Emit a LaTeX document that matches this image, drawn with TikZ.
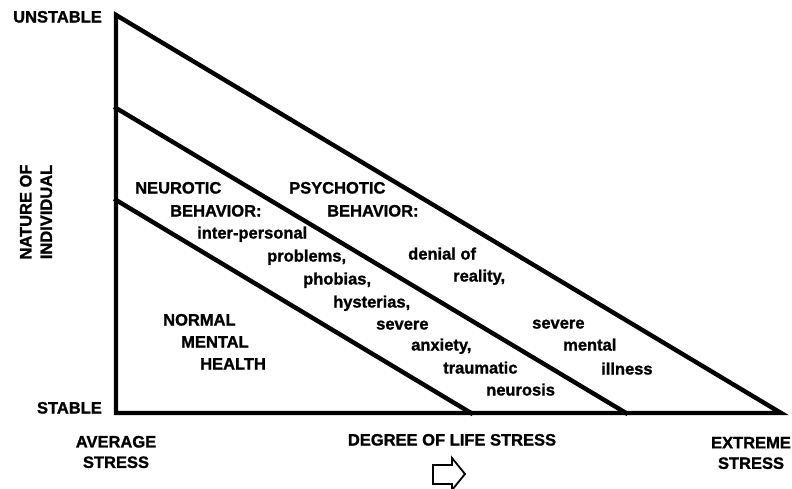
\documentclass[tikz,border=0pt]{standalone}
\usepackage{fontspec}
\setmainfont{Liberation Sans}[BoldFeatures={FakeBold=1.2}]
\tikzset{
  lbl/.style={font=\fontsize{16.5}{20.5}\selectfont\bfseries, inner sep=0pt, text height=1.2ex, text depth=0.25ex},
  edge/.style={line width=4.4pt, line join=miter, line cap=rect},
}
\begin{document}
\begin{tikzpicture}[x=1pt,y=-1pt]
\useasboundingbox (0,0) rectangle (792,489);
% frame coordinates
\coordinate (top) at (116,15);
\coordinate (bl) at (116,413);
\coordinate (br) at (781,413);
\coordinate (m1) at (116,108);
\coordinate (m2) at (626,413);
\coordinate (n1) at (116,200);
\coordinate (n2) at (471,413);
\draw[edge] (top) -- (bl) -- (br) -- cycle;
\draw[edge] (m1) -- (m2);
\draw[edge] (n1) -- (n2);
% axis labels
\node[lbl, anchor=east] (unstable) at (102,20) {UNSTABLE};
\node[lbl, anchor=east] (stable) at (102,411) {STABLE};
\node[lbl, rotate=90, align=center, text height=, text depth=] (nature) at (36,212) {NATURE OF\\INDIVIDUAL};
\node[lbl, align=center, text height=, text depth=] (average) at (116,452) {AVERAGE\\STRESS};
\node[lbl] (degree) at (452,443) {DEGREE OF LIFE STRESS};
\node[lbl, align=center, text height=, text depth=] (extreme) at (751,453) {EXTREME\\STRESS};
% outlined block arrow
\draw[line width=1.8pt, line join=miter] (433,465) -- (452,465) -- (452,458) -- (465,474) -- (452,490) -- (452,484) -- (433,484) -- cycle;
% neurotic region
\node[lbl, anchor=west] (neu1) at (135,191) {NEUROTIC};
\node[lbl, anchor=west] (neu2) at (170,214) {BEHAVIOR:};
\node[lbl, anchor=west] (neu3) at (197,236) {inter-personal};
\node[lbl, anchor=west] (neu4) at (267,259) {problems,};
\node[lbl, anchor=west] (neu5) at (303,282) {phobias,};
\node[lbl, anchor=west] (neu6) at (333,305) {hysterias,};
\node[lbl, anchor=west] (neu7) at (376,327) {severe};
\node[lbl, anchor=west] (neu8) at (411,348) {anxiety,};
\node[lbl, anchor=west] (neu9) at (443,371) {traumatic};
\node[lbl, anchor=west] (neu10) at (486,393) {neurosis};
% psychotic region
\node[lbl, anchor=west] (psy1) at (289,191) {PSYCHOTIC};
\node[lbl, anchor=west] (psy2) at (327,214) {BEHAVIOR:};
\node[lbl, anchor=west] (psy3) at (408,257) {denial of};
\node[lbl, anchor=west] (psy4) at (453,279) {reality,};
\node[lbl, anchor=west] (psy5) at (532,326) {severe};
\node[lbl, anchor=west] (psy6) at (563,348) {mental};
\node[lbl, anchor=west] (psy7) at (601,372) {illness};
% normal region
\node[lbl, anchor=west] (nor1) at (163,323) {NORMAL};
\node[lbl, anchor=west] (nor2) at (181,345) {MENTAL};
\node[lbl, anchor=west] (nor3) at (200,367) {HEALTH};
\end{tikzpicture}
\end{document}
